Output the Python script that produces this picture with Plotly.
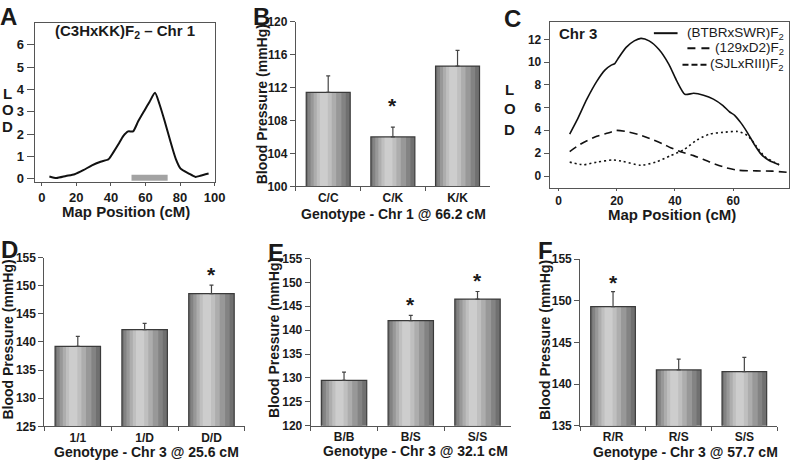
import plotly.graph_objects as go

# ---- data ----
# A: (C3HxKK)F2, chromosome 1 LOD scan
chr1_cm = [4.4, 8.5, 14.0, 19.0, 24.0, 29.0, 34.0, 38.6, 41.4, 44.3, 47.1, 50.0,
           52.8, 55.7, 59.5, 62.3, 65.5, 68.0, 70.9, 74.6, 77.5, 80.3, 85.1, 88.9,
           91.7, 96.5]
chr1_lod = [0.10, 0.03, 0.12, 0.20, 0.38, 0.60, 0.76, 0.87, 1.18, 1.54, 1.91, 2.12,
            2.12, 2.56, 3.07, 3.44, 3.85, 3.36, 2.63, 1.62, 0.89, 0.45, 0.23, 0.08,
            0.13, 0.23]
chr1_ci_cm = [51.9, 72.8]
chr1_ci_lod = [0.04, 0.04]

# C: chromosome 3 LOD scans in three crosses
btbr_cm = [3.8, 6.3, 9.7, 13.1, 15.9, 18.1, 19.3, 20.4, 23.2, 26.0, 28.3, 31.1,
           34.5, 37.9, 40.5, 43.4, 46.4, 49.8, 53.2, 56.5, 58.8, 60.5, 62.8, 65.0,
           67.3, 69.6, 72.4, 75.8]
btbr_lod = [3.68, 4.90, 6.75, 8.31, 9.30, 9.73, 9.87, 10.30, 11.29, 11.86, 12.08,
            11.86, 11.10, 9.80, 8.40, 7.17, 7.26, 7.09, 6.75, 6.18, 5.62, 5.33,
            4.62, 3.77, 2.77, 1.92, 1.36, 0.99]
d2_cm = [3.8, 7.4, 13.1, 17.0, 19.8, 23.2, 27.7, 32.3, 36.0, 38.5, 41.9, 46.4,
         52.0, 57.7, 61.6, 67.9, 73.5, 79.5]
d2_lod = [2.15, 2.78, 3.49, 3.77, 4.00, 3.91, 3.63, 3.20, 2.80, 2.49, 2.13, 1.79,
          1.22, 0.71, 0.51, 0.45, 0.43, 0.30]
sjl_cm = [3.8, 8.5, 13.1, 18.7, 22.1, 28.3, 33.4, 38.5, 43.0, 47.5, 52.0, 56.5,
          61.6, 65.0, 67.9, 70.7, 74.1, 75.8]
sjl_lod = [1.22, 0.99, 1.22, 1.41, 1.28, 0.94, 1.22, 1.79, 2.30, 3.15, 3.69, 3.83,
           3.91, 3.54, 2.64, 1.73, 1.22, 0.99]
chr3_names = ["(BTBRxSWR)F<sub>2</sub>", "(129xD2)F<sub>2</sub>", "(SJLxRIII)F<sub>2</sub>"]

# B, D, E, F: blood pressure by genotype (mean, SEM, significance)
b_geno = ["C/C", "C/K", "K/K"]
b_mean = [111.4, 106.0, 114.6]
b_sem = [2.0, 1.2, 1.9]
b_sig = [False, True, False]

d_geno = ["1/1", "1/D", "D/D"]
d_mean = [139.2, 142.2, 148.6]
d_sem = [1.8, 1.1, 1.5]
d_sig = [False, False, True]

e_geno = ["B/B", "B/S", "S/S"]
e_mean = [129.5, 142.0, 146.5]
e_sem = [1.7, 1.1, 1.6]
e_sig = [False, True, True]

f_geno = ["R/R", "R/S", "S/S"]
f_mean = [149.3, 141.7, 141.5]
f_sem = [1.8, 1.3, 1.7]
f_sig = [True, False, False]

lod_ticks = [0, 1, 2, 3, 4, 5, 6]
cm_ticks_a = [0, 20, 40, 60, 80, 100]
lod_ticks_c = [0, 2, 4, 6, 8, 10, 12]
cm_ticks_c = [0, 20, 40, 60]

# ---- styling ----
W, H = 800, 466
FONT = "Arial, Liberation Sans, sans-serif"
AXC = "#555555"
TXT = "#1a1a1a"
BAR_W = 0.68
# left/right fraction of the bar and colour, to fake the cylinder shading
GRAD = [(0.0, 1.0, "#707070"), (0.04, 0.9, "#838383"), (0.1, 0.8, "#989898"),
        (0.17, 0.68, "#adadad"), (0.24, 0.58, "#bfbfbf"), (0.31, 0.49, "#cdcdcd")]
C3_DASH = ["solid", "8px,5px", "2px,3px"]


def px(x):
    return x / W


def py(y):
    return 1 - y / H


fig = go.Figure()


def axis_names(n):
    return ("x", "y") if n == 1 else (f"x{n}", f"y{n}")


def add_bars(n, cats, means, sems, sig, star_shift):
    xa, ya = axis_names(n)
    for lo, hi, col in GRAD:
        fig.add_trace(go.Bar(x=cats, y=means, width=BAR_W * (hi - lo),
                             offset=-BAR_W / 2 + BAR_W * lo,
                             marker=dict(color=col, line=dict(width=0)),
                             xaxis=xa, yaxis=ya, showlegend=False, hoverinfo="skip"))
    fig.add_trace(go.Bar(x=cats, y=means, width=BAR_W, offset=-BAR_W / 2,
                         marker=dict(color="rgba(0,0,0,0)",
                                     line=dict(color="#3a3a3a", width=1.2)),
                         error_y=dict(type="data", symmetric=False, array=sems,
                                      arrayminus=[0] * len(sems), color="#444444",
                                      thickness=1.2, width=2),
                         xaxis=xa, yaxis=ya, showlegend=False))
    # significance stars sit just above the error bar
    for c, m, e, s in zip(cats, means, sems, sig):
        if s:
            fig.add_annotation(x=c, y=m + e, xref=xa, yref=ya, text="*",
                               showarrow=False, yanchor="bottom", yshift=star_shift,
                               font=dict(family=FONT, size=21, color=TXT, weight="bold"))


# A
fig.add_trace(go.Scatter(x=chr1_ci_cm, y=chr1_ci_lod, mode="lines",
                         line=dict(color="#a3a3a3", width=6), showlegend=False))
fig.add_trace(go.Scatter(x=chr1_cm, y=chr1_lod, mode="lines", line_shape="spline",
                         line=dict(color="#111111", width=2, smoothing=0.6),
                         showlegend=False))

# B, D, E, F
add_bars(2, b_geno, b_mean, b_sem, b_sig, 8)
add_bars(4, d_geno, d_mean, d_sem, d_sig, -3)
add_bars(5, e_geno, e_mean, e_sem, e_sig, -3)
add_bars(6, f_geno, f_mean, f_sem, f_sig, -4)

# C
for xs, ys, name, dash in zip([btbr_cm, d2_cm, sjl_cm], [btbr_lod, d2_lod, sjl_lod],
                              chr3_names, C3_DASH):
    fig.add_trace(go.Scatter(x=xs, y=ys, mode="lines", name=name, line_shape="spline",
                             line=dict(color="#111111", width=1.6, dash=dash, smoothing=0.6),
                             xaxis="x3", yaxis="y3", showlegend=False))


def tfont(size=12):
    return dict(family=FONT, size=size, color=TXT, weight="bold")


def lin_axis(dom, rng, vals, ticklen, size=12):
    return dict(domain=dom, range=rng, tickvals=vals, showline=True, mirror=True,
                linecolor=AXC, linewidth=1, ticks="outside", ticklen=ticklen,
                tickcolor=AXC, showgrid=False, zeroline=False, tickfont=tfont(size))


def cat_x(dom, anchor):
    return dict(domain=dom, anchor=anchor, type="category", range=[-0.5, 2.5],
                showline=True, linecolor=AXC, linewidth=1, ticks="outside",
                tickson="boundaries", ticklen=4, tickcolor=AXC, showgrid=False,
                zeroline=False, tickfont=tfont())


def bp_y(dom, anchor, rng, dtick):
    return dict(domain=dom, anchor=anchor, range=rng, dtick=dtick, showline=True,
                linecolor=AXC, linewidth=1, ticks="outside", ticklen=5,
                tickcolor=AXC, showgrid=False, zeroline=False, tickfont=tfont())


layout = dict(
    width=W, height=H, margin=dict(l=0, r=0, t=0, b=0),
    paper_bgcolor="white", plot_bgcolor="white", barmode="overlay",
    font=dict(family=FONT, color=TXT), showlegend=False,
    xaxis=lin_axis([px(35), px(218)], [-4.2, 100.2], cm_ticks_a, 3, 13),
    yaxis=lin_axis([py(180.7), py(16)], [-0.16, 7.0], lod_ticks, 7, 13),
    xaxis2=cat_x([px(300), px(496.7)], "y2"),
    yaxis2=bp_y([py(185), py(15)], "x2", [100, 120], 4),
    xaxis3=lin_axis([px(557.3), px(800)], [-3.1, 79.2], cm_ticks_c, 2, 12),
    yaxis3=lin_axis([py(186.7), py(15)], [-1.06, 13.56], lod_ticks_c, 5),
    xaxis4=cat_x([px(45), px(248.3)], "y4"),
    yaxis4=bp_y([py(432.3), py(258.3)], "x4", [125, 155], 5),
    xaxis5=cat_x([px(315), px(518)], "y5"),
    yaxis5=bp_y([py(431.7), py(259.3)], "x5", [120, 155], 5),
    xaxis6=cat_x([px(588.3), px(788)], "y6"),
    yaxis6=bp_y([py(431.7), py(260)], "x6", [135, 155], 5),
)
layout["xaxis3"]["anchor"] = "y3"
layout["yaxis3"]["anchor"] = "x3"
fig.update_layout(**layout)


def note(text, x, y, size=15, angle=0, anchor="center", weight="bold"):
    fig.add_annotation(text=text, x=px(x), y=py(y), xref="paper", yref="paper",
                       showarrow=False, xanchor=anchor, yanchor="middle",
                       textangle=angle,
                       font=dict(family=FONT, size=size, color=TXT, weight=weight))


# panel letters
for letter, lx, ly in [("A", 8.5, 10), ("B", 265, 10), ("C", 519.5, 12),
                       ("D", 9.5, 250), ("E", 280, 253), ("F", 553, 251.5)]:
    note(letter, lx, ly, size=24)

# axis titles
note("Map Position (cM)", 128, 211)
note("Map Position (cM)", 681.7, 214)
note("Genotype - Chr 1 @ 66.2 cM", 399, 213, size=14)
note("Genotype - Chr 3 @ 25.6 cM", 148.3, 459, size=14)
note("Genotype - Chr 3 @ 32.1 cM", 421.7, 458, size=14)
note("Genotype - Chr 3 @ 57.7 cM", 695, 459, size=14)
note("Blood Pressure (mmHg)", 266, 100, size=14, angle=-90)
note("Blood Pressure (mmHg)", 8.5, 342.5, size=14, angle=-90)
note("Blood Pressure (mmHg)", 278.5, 341.7, size=14, angle=-90)
note("Blood Pressure (mmHg)", 552, 343, size=14, angle=-90)
for ch, ya, yc in zip("LOD", [89, 106, 123], [85, 105, 126]):
    note(ch, 8, ya)
    note(ch, 517, yc)

# in-panel labels
note("(C3HxKK)F<sub>2</sub> – Chr 1", 126.7, 25)
note("Chr 3", 565, 27, anchor="left")

# legend for panel C: key line just left of right-aligned label
for name, dash, ly, (k0, k1) in zip(chr3_names, ["solid", "8px,6px", "6px,3px"],
                                    [27, 42.5, 59.5],
                                    [(663, 687), (697, 722), (692, 717)]):
    note(name, 797, ly, size=13.5, anchor="right", weight="normal")
    fig.add_shape(type="line", xref="paper", yref="paper", x0=px(k0), x1=px(k1),
                  y0=py(ly), y1=py(ly), line=dict(color="#111111", width=2, dash=dash))

fig.write_html("out.html", config={"displayModeBar": False},
               post_script="document.body.style.margin='0px';")
